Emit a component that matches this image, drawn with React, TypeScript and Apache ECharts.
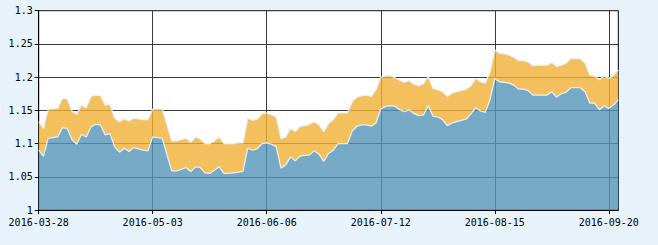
import React, { useEffect, useRef } from "react";
import * as echarts from "echarts";

const dates: string[] = [
  "2016-03-28", "2016-03-29", "2016-03-30", "2016-03-31",
  "2016-04-01", "2016-04-05", "2016-04-06", "2016-04-07", "2016-04-08",
  "2016-04-11", "2016-04-12", "2016-04-13", "2016-04-14", "2016-04-15",
  "2016-04-18", "2016-04-19", "2016-04-20", "2016-04-21", "2016-04-22",
  "2016-04-25", "2016-04-26", "2016-04-27", "2016-04-28", "2016-04-29",
  "2016-05-03", "2016-05-04", "2016-05-05", "2016-05-06",
  "2016-05-09", "2016-05-10", "2016-05-11", "2016-05-12", "2016-05-13",
  "2016-05-16", "2016-05-17", "2016-05-18", "2016-05-19", "2016-05-20",
  "2016-05-23", "2016-05-24", "2016-05-25", "2016-05-26", "2016-05-27",
  "2016-05-30", "2016-05-31",
  "2016-06-01", "2016-06-02", "2016-06-03",
  "2016-06-06", "2016-06-07", "2016-06-08",
  "2016-06-13", "2016-06-14", "2016-06-15", "2016-06-16", "2016-06-17",
  "2016-06-20", "2016-06-21", "2016-06-22", "2016-06-23", "2016-06-24",
  "2016-06-27", "2016-06-28", "2016-06-29", "2016-06-30",
  "2016-07-01",
  "2016-07-04", "2016-07-05", "2016-07-06", "2016-07-07", "2016-07-08",
  "2016-07-11", "2016-07-12", "2016-07-13", "2016-07-14", "2016-07-15",
  "2016-07-18", "2016-07-19", "2016-07-20", "2016-07-21", "2016-07-22",
  "2016-07-25", "2016-07-26", "2016-07-27", "2016-07-28", "2016-07-29",
  "2016-08-01", "2016-08-02", "2016-08-03", "2016-08-04", "2016-08-05",
  "2016-08-08", "2016-08-09", "2016-08-10", "2016-08-11", "2016-08-12",
  "2016-08-15", "2016-08-16", "2016-08-17", "2016-08-18", "2016-08-19",
  "2016-08-22", "2016-08-23", "2016-08-24", "2016-08-25", "2016-08-26",
  "2016-08-29", "2016-08-30", "2016-08-31",
  "2016-09-01", "2016-09-02",
  "2016-09-05", "2016-09-06", "2016-09-07", "2016-09-08", "2016-09-09",
  "2016-09-12", "2016-09-13", "2016-09-14",
  "2016-09-19", "2016-09-20", "2016-09-21", "2016-09-22",
];

// lower (blue) series
const unitValues: number[] = [
  1.090, 1.081, 1.108, 1.109, 1.110, 1.124, 1.123, 1.106, 1.099, 1.114,
  1.110, 1.125, 1.129, 1.128, 1.113, 1.115, 1.095, 1.087, 1.093, 1.088,
  1.094, 1.092, 1.090, 1.089, 1.110, 1.109, 1.108, 1.083, 1.059, 1.059,
  1.061, 1.064, 1.058, 1.065, 1.064, 1.056, 1.055, 1.060, 1.065, 1.055,
  1.055, 1.056, 1.057, 1.058, 1.093, 1.090, 1.092, 1.100, 1.101, 1.099,
  1.095, 1.063, 1.068, 1.080, 1.074, 1.081, 1.082, 1.083, 1.089, 1.084,
  1.073, 1.085, 1.090, 1.100, 1.100, 1.100, 1.119, 1.126, 1.128, 1.128,
  1.126, 1.131, 1.152, 1.156, 1.157, 1.156, 1.151, 1.148, 1.151, 1.145,
  1.142, 1.143, 1.157, 1.141, 1.140, 1.136, 1.127, 1.131, 1.133, 1.135,
  1.137, 1.145, 1.154, 1.149, 1.147, 1.166, 1.198, 1.193, 1.192, 1.191,
  1.188, 1.182, 1.182, 1.180, 1.173, 1.173, 1.173, 1.173, 1.178, 1.170,
  1.175, 1.177, 1.184, 1.184, 1.184, 1.178, 1.161, 1.161, 1.151, 1.157,
  1.153, 1.158, 1.166,
];

// upper (orange) series
const totalValues: number[] = [
  1.133, 1.123, 1.152, 1.152, 1.153, 1.168, 1.167, 1.149, 1.144, 1.158,
  1.154, 1.171, 1.173, 1.172, 1.158, 1.159, 1.138, 1.133, 1.137, 1.134,
  1.138, 1.137, 1.136, 1.136, 1.152, 1.152, 1.152, 1.128, 1.104, 1.104,
  1.106, 1.108, 1.102, 1.110, 1.107, 1.100, 1.100, 1.104, 1.110, 1.100,
  1.100, 1.100, 1.101, 1.101, 1.138, 1.135, 1.137, 1.145, 1.146, 1.143,
  1.140, 1.107, 1.110, 1.123, 1.118, 1.126, 1.127, 1.129, 1.133, 1.128,
  1.118, 1.130, 1.136, 1.146, 1.146, 1.146, 1.163, 1.170, 1.172, 1.173,
  1.171, 1.181, 1.200, 1.202, 1.202, 1.199, 1.195, 1.192, 1.195, 1.189,
  1.187, 1.190, 1.201, 1.183, 1.181, 1.178, 1.171, 1.176, 1.178, 1.180,
  1.182, 1.187, 1.198, 1.193, 1.191, 1.208, 1.241, 1.236, 1.235, 1.233,
  1.230, 1.225, 1.225, 1.223, 1.217, 1.218, 1.218, 1.218, 1.222, 1.216,
  1.218, 1.221, 1.228, 1.228, 1.228, 1.221, 1.203, 1.202, 1.196, 1.202,
  1.198, 1.203, 1.211,
];

const yTicks = { min: 1, max: 1.3, interval: 0.05 };
const labelEvery = 24;

export default function App() {
  const ref = useRef<HTMLDivElement>(null);

  useEffect(() => {
    document.body.style.margin = "0";
    if (!ref.current) return;
    const chart = echarts.init(ref.current, null, { renderer: "svg" });
    // orange band drawn stacked on top of the blue area so that both fills sit side by side
    const band = totalValues.map((v, i) => +(v - unitValues[i]).toFixed(4));
    const font = "'DejaVu Sans Mono', 'Liberation Mono', monospace";
    chart.setOption({
      animation: false,
      backgroundColor: "#e7f2fb",
      grid: {
        left: 38.7,
        right: 39.7,
        top: 10.7,
        bottom: 35,
        show: true,
        backgroundColor: "#ffffff",
        borderColor: "#000000",
        borderWidth: 1,
      },
      xAxis: {
        type: "category",
        data: dates,
        boundaryGap: false,
        axisLine: { lineStyle: { color: "#000000", width: 1 } },
        axisTick: { show: true, interval: labelEvery - 1, length: 4, lineStyle: { color: "#000000" } },
        axisLabel: {
          interval: labelEvery - 1,
          color: "#000000",
          fontFamily: font,
          fontSize: 10,
          margin: 7,
        },
        splitLine: { show: true, interval: labelEvery - 1, lineStyle: { color: "#3c3c3c", width: 1 } },
      },
      yAxis: {
        type: "value",
        min: yTicks.min,
        max: yTicks.max,
        interval: yTicks.interval,
        axisLine: { show: true, lineStyle: { color: "#000000", width: 1 } },
        axisTick: { show: true, length: 4, lineStyle: { color: "#000000" } },
        axisLabel: { color: "#000000", fontFamily: font, fontSize: 10, margin: 6 },
        splitLine: { show: true, lineStyle: { color: "#3c3c3c", width: 1 } },
      },
      series: [
        {
          type: "line",
          data: unitValues,
          stack: "nav",
          symbol: "none",
          lineStyle: { color: "#e6f2fa", width: 1.2 },
          areaStyle: { color: "#5493b6", opacity: 0.8 },
          z: 3,
        },
        {
          type: "line",
          data: band,
          stack: "nav",
          symbol: "none",
          lineStyle: { color: "#e6f2fa", width: 1.2 },
          areaStyle: { color: "#f1b036", opacity: 0.8 },
          z: 2,
        },
      ],
    });
    return () => chart.dispose();
  }, []);

  return (
    <div
      ref={ref}
      style={{ position: "fixed", left: 0, top: 0, width: 658, height: 245 }}
    />
  );
}
